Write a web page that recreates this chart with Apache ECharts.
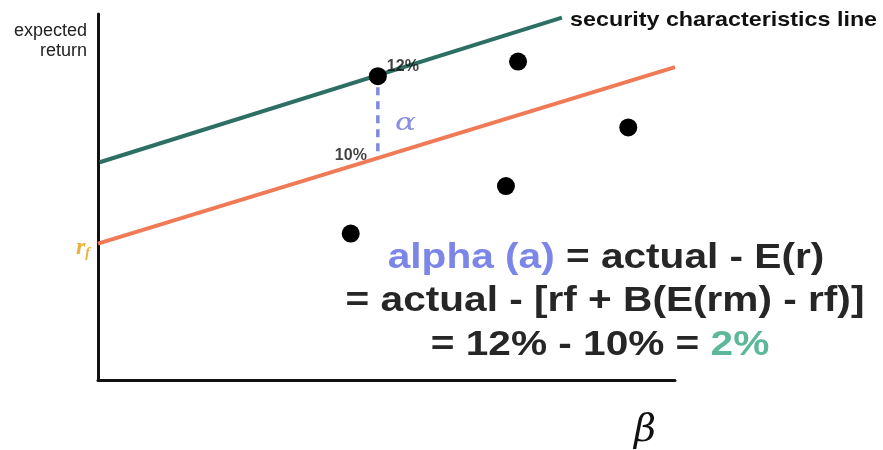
<!DOCTYPE html>
<html><head><meta charset="utf-8">
<script src="https://cdn.jsdelivr.net/npm/echarts@6/dist/echarts.min.js"></script>
<style>html,body{margin:0;padding:0;background:#fff}#c{width:883px;height:450px}</style>
</head><body><div id="c"></div>
<script>
// Data (beta on x, expected return on y; arbitrary units)
const sclLine = [[0.03, 11.9], [8.04, 19.8]];       // security characteristics line
const smlLine = [[0, 7.45], [10, 17.1]];             // line starting at rf
const stocks = [[4.85, 16.6], [7.28, 17.4], [9.19, 13.8], [7.07, 10.6], [4.38, 8.0]];
const alphaSegment = [[4.85, 16.0], [4.85, 12.3]];
const alphaLabels = ['12%', '10%'];

const chart = echarts.init(document.getElementById('c'));
const dark = '#262626';
const F = 'bold 35px "Liberation Sans"';
chart.setOption({
  animation: false,
  grid: {left: 98, top: 14, width: 577, height: 366},
  xAxis: {type: 'value', min: 0, max: 10, axisLine: {show: true, onZero: false, lineStyle: {color: '#111', width: 3}},
          axisTick: {show: false}, axisLabel: {show: false}, splitLine: {show: false}},
  yAxis: {type: 'value', min: 0, max: 20, axisLine: {show: true, onZero: false, lineStyle: {color: '#111', width: 3}},
          axisTick: {show: false}, axisLabel: {show: false}, splitLine: {show: false}},
  series: [
    {type: 'line', data: smlLine, symbol: 'none', lineStyle: {color: '#ef7a55', width: 4}, z: 2},
    {type: 'line', data: sclLine, symbol: 'none', lineStyle: {color: '#2e6f64', width: 4}, z: 2},
    {type: 'line', data: alphaSegment, symbol: 'none', lineStyle: {color: '#8188dc', width: 3.5, type: [8, 6]}, z: 1},
    {type: 'scatter', data: alphaSegment.map((p, i) => ({value: p, label: {
        show: true, formatter: alphaLabels[i], fontFamily: 'Liberation Sans', fontWeight: 'bold', fontSize: 16, color: '#111',
        position: i === 0 ? [9, -29] : [-43, -7]}})),
     symbolSize: 0, z: 4},
    {type: 'scatter', data: stocks, symbol: 'circle', symbolSize: 18, itemStyle: {color: '#000', opacity: 1}, z: 5}
  ],
  graphic: [
    {type: 'text', x: 87, y: 21, style: {text: 'expected\nreturn', align: 'right', font: '18px "Liberation Sans"', lineHeight: 20, fill: '#222'}},
    {type: 'text', x: 90, y: 236, style: {text: '{r|r}{f|f}', align: 'right', rich: {
       r: {font: 'italic bold 24px "Liberation Serif"', fill: '#e9b33a', verticalAlign: 'bottom'},
       f: {font: 'italic bold 14px "Liberation Serif"', fill: '#e9b33a', verticalAlign: 'bottom'}}}},
    {type: 'text', x: 395, y: 112, scaleX: 1.3, style: {text: 'α', font: 'italic 24px "DejaVu Serif"', fill: '#8a8fe0'}},
    {type: 'text', x: 570, y: 10, scaleX: 1.11, style: {text: 'security characteristics line', font: 'bold 21px "Liberation Sans"', fill: '#111'}},
    {type: 'text', x: 606, y: 241, scaleX: 1.16, style: {text: '{a|alpha (a)}{b| = actual - E(r)}', align: 'center', rich: {
       a: {font: F, fill: '#7b86e8'}, b: {font: F, fill: dark}}}},
    {type: 'text', x: 605, y: 284, scaleX: 1.16, style: {text: '= actual - [rf + B(E(rm) - rf)]', align: 'center', font: F, fill: dark}},
    {type: 'text', x: 600, y: 328, scaleX: 1.16, style: {text: '{b|= 12% - 10% = }{g|2%}', align: 'center', rich: {
       b: {font: F, fill: dark}, g: {font: F, fill: '#5db89a'}}}},
    {type: 'text', x: 634, y: 412, style: {text: 'β', font: 'italic 38px "DejaVu Serif"', fill: '#111'}}
  ]
});
</script></body></html>
